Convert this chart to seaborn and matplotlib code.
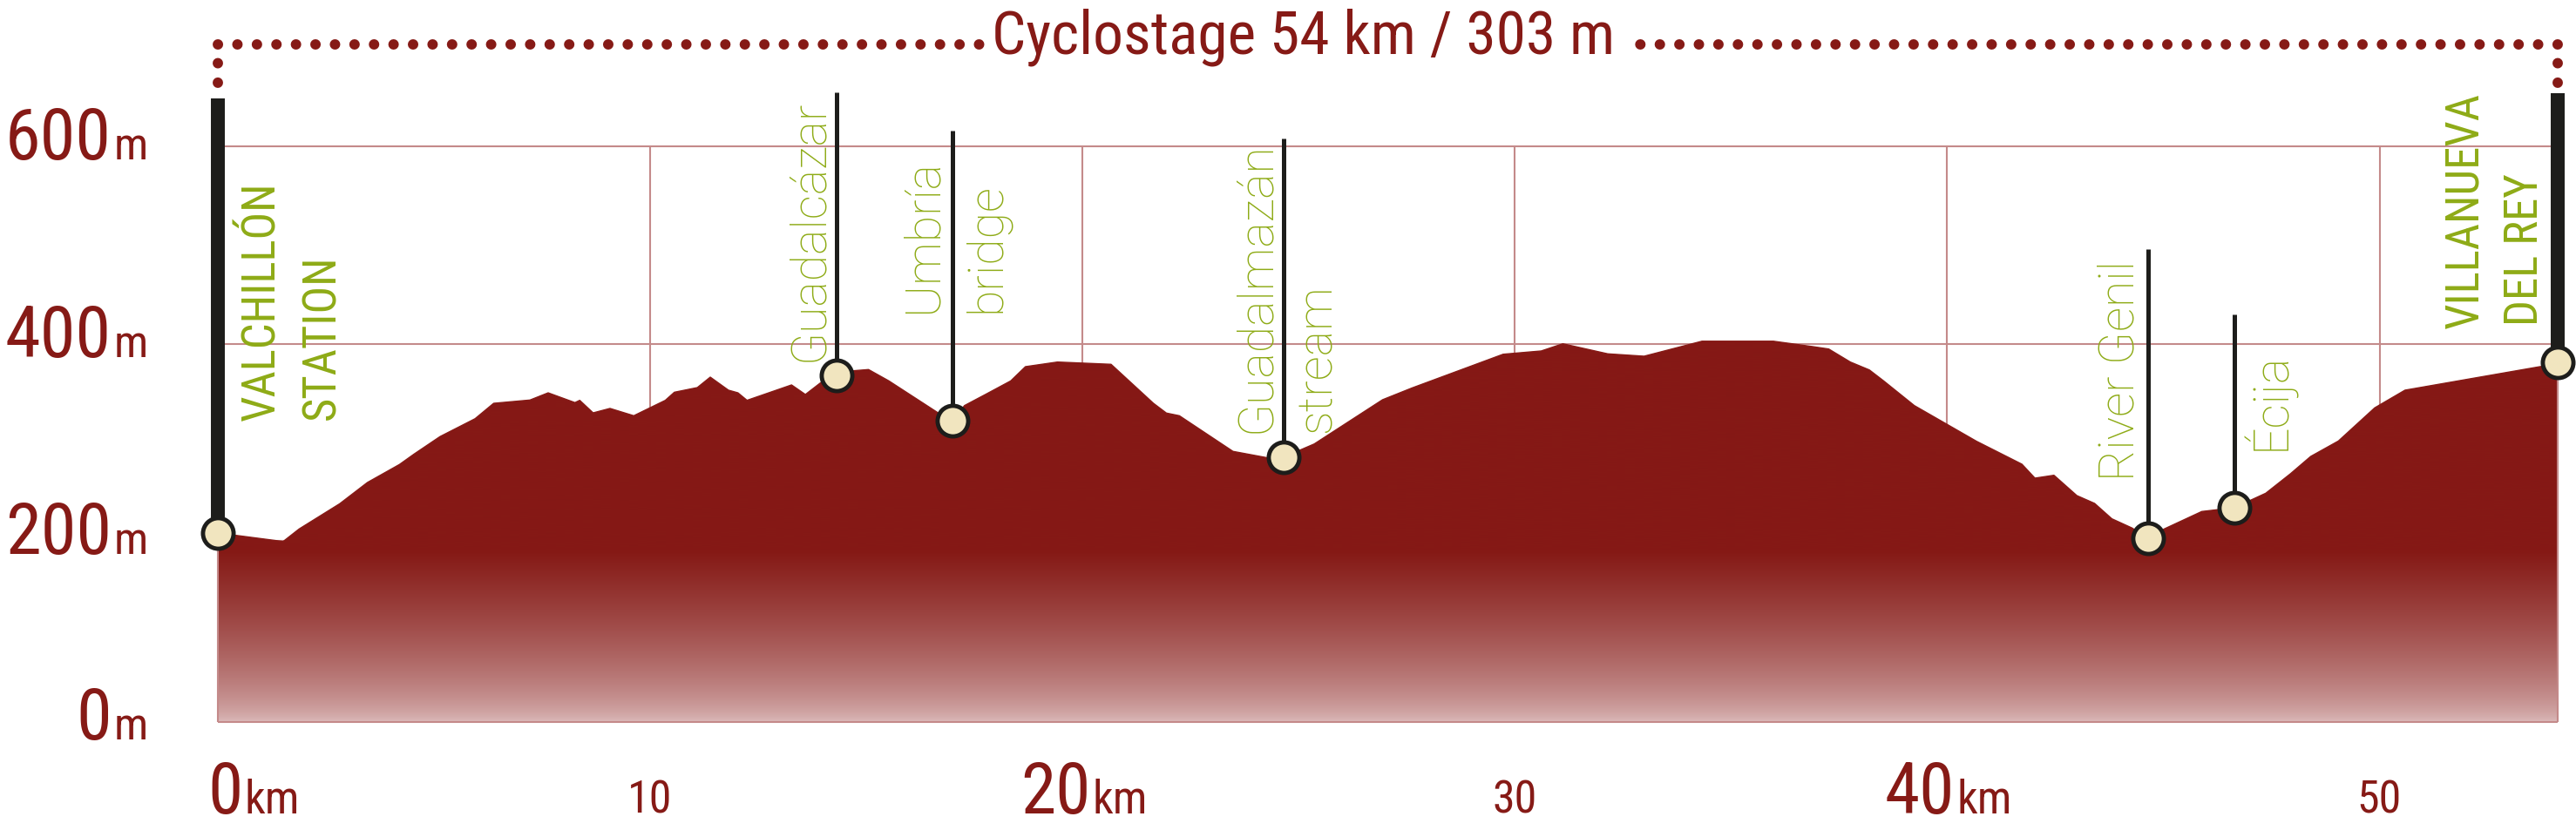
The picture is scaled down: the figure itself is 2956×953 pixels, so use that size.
import numpy as np
import matplotlib
matplotlib.use("Agg")
import matplotlib.pyplot as plt
import matplotlib.transforms as mtransforms
from matplotlib import font_manager as fm
import seaborn as sns

# ---------------- data ----------------
profile_km = [0.00, 1.51, 1.88, 2.82, 3.46, 4.20, 4.54, 5.14, 5.95, 6.38, 7.22, 7.64,
              8.26, 8.37, 8.68, 9.07, 9.62, 10.35, 10.56, 11.09, 11.39, 11.81, 12.03,
              12.24, 13.27, 13.59, 14.04, 14.31, 14.71, 15.05, 15.52, 16.66, 17.00,
              17.27, 17.80, 18.34, 18.68, 19.42, 20.66, 21.64, 21.94, 22.24, 23.48,
              24.29, 24.66, 25.36, 26.94, 27.62, 29.73, 30.61, 31.11, 32.15, 32.99,
              34.33, 35.98, 36.89, 37.26, 37.76, 38.20, 38.53, 39.24, 40.68, 41.73,
              42.03, 42.47, 43.00, 43.41, 43.81, 44.28, 44.65, 45.02, 45.89, 46.64,
              47.37, 47.94, 48.41, 49.05, 49.89, 50.59, 53.75, 54.13]
profile_elev = [208.3, 199.7, 212.4, 238.0, 259.5, 277.7, 288.3, 306.0, 324.1, 339.7,
                343.0, 350.3, 340.4, 342.7, 330.0, 334.5, 327.1, 342.7, 350.9, 355.6,
                366.2, 353.0, 350.3, 342.7, 358.3, 348.6, 363.8, 368.2, 372.7, 373.9,
                362.4, 330.0, 321.8, 337.4, 349.7, 362.4, 376.8, 381.5, 379.2, 339.7,
                329.8, 327.1, 291.0, 284.4, 285.3, 298.5, 343.3, 355.2, 389.4, 392.7,
                400.0, 389.8, 387.4, 402.6, 402.6, 397.1, 394.7, 381.5, 373.5, 362.4,
                337.4, 301.2, 278.0, 263.9, 266.8, 246.2, 238.3, 222.7, 213.3, 202.7,
                212.4, 230.1, 233.9, 248.6, 268.3, 285.9, 301.5, 335.1, 353.0, 377.1,
                380.9]

wp_names = [["VALCHILLÓN", "STATION"], ["Guadalcázar"], ["Umbría", "bridge"],
            ["Guadalmazán", "stream"], ["River Genil"], ["Écija"],
            ["VILLANUEVA", "DEL REY"]]
wp_km = [0.00, 14.31, 17.00, 24.66, 44.65, 46.64, 54.13]
wp_elev = [208.3, 368.2, 321.8, 285.3, 202.7, 233.9, 380.9]
wp_top = [648.5, 654.7, 615.9, 608.0, 495.9, 429.8, 654.2]
wp_major = [True, False, False, False, False, False, True]

x_ticks = [0, 10, 20, 30, 40, 50]
x_tick_labels = ["0", "10", "20", "30", "40", "50"]
x_tick_units = ["km", "", "km", "", "km", ""]
y_ticks = [0, 200, 400, 600]
y_tick_labels = ["0", "200", "400", "600"]
title = "Cyclostage 54 km / 303 m"
base_elev = 17.0

# ---------------- style / layout ----------------
W, H, DPI = 2956, 954, 100
X0_PX, PX_PER_KM = 250.0, 49.61
Y400_PX, PX_PER_M = 395.7, 1.1335

RED = "#861a16"
DARK = np.array([133, 25, 21]) / 255.0
LIGHT = np.array([221, 189, 189]) / 255.0
GREEN = "#8eab16"
STEM = "#1d1d1b"
CREAM = "#f1e5bf"
GRID = "#c48a8a"


def kx(px):
    return (px - X0_PX) / PX_PER_KM


def ey(py):
    return 400.0 - (py - Y400_PX) / PX_PER_M


sns.set_theme(style="white")

entries = fm.fontManager.ttflist
names = {f.name for f in entries}
prefs = [("Liberation Sans Narrow", 1.0), ("Noto Sans Condensed", 1.0),
         ("Arial Narrow", 1.0), ("Roboto Condensed", 1.07),
         ("Open Sans Condensed", 1.05), ("Noto Sans SemiCondensed", 1.1),
         ("Open Sans SemiCondensed", 1.12)]
NARROW, WF = None, 1.0
for n, w in prefs:
    if n in names:
        NARROW, WF = n, w
        break
if NARROW is None:
    for n in sorted(names):
        if (("Condensed" in n or "Narrow" in n) and "CJK" not in n
                and "Mono" not in n and "DejaVu" not in n and "Extra" not in n
                and "Ultra" not in n):
            NARROW, WF = n, 1.05
            break
if NARROW is None:
    NARROW, WF = ("Liberation Sans", 1.22) if "Liberation Sans" in names else ("DejaVu Sans", 1.3)


def fs(base, p):
    return base * WF ** (-p)


LIGHTF = "DejaVu Sans"
for n in ["Roboto", "Open Sans", "Lato", "Liberation Sans"]:
    if n in names:
        LIGHTF = n
        break
light_weight = "normal"
for f in entries:
    if f.name == LIGHTF and f.weight in (300, "light"):
        light_weight = "light"
        break
plt.rcParams["font.family"] = [NARROW, "DejaVu Sans"]

fig = plt.figure(figsize=(W / DPI, H / DPI), dpi=DPI)
ax = fig.add_axes([0, 0, 1, 1])
ax.set_axis_off()

end_km = profile_km[-1]

# grid (behind the profile)
ax.hlines([200, 400, 600], 0, end_km, colors=GRID, lw=1.5, zorder=1)
ax.vlines([t for t in x_ticks if t > 0], base_elev, 600, colors=GRID, lw=1.5, zorder=1)

# gradient-filled profile
fill = ax.fill_between(profile_km, profile_elev, base_elev, facecolor="none", lw=0)
clip = fill.get_paths()[0]
gy = np.linspace(base_elev, 420, 500)
t = np.clip((gy - base_elev) / (190 - base_elev), 0, 1) ** 0.65
cols = LIGHT[None, :] + (DARK - LIGHT)[None, :] * t[:, None]
im = ax.imshow(cols[:, None, :], extent=[0, end_km, base_elev, 420], origin="lower",
               aspect="auto", interpolation="bilinear", zorder=2)
im.set_clip_path(clip, transform=ax.transData)
sns.lineplot(x=profile_km, y=profile_elev, ax=ax, color=RED, lw=1.0, sort=False,
             estimator=None, zorder=2.5, legend=False)

# frame edges (over fill)
ax.hlines(base_elev, 0, end_km, colors=GRID, lw=1.5, zorder=3)
ax.vlines([0, end_km], base_elev, 600, colors=GRID, lw=1.5, zorder=3)

# stems and end bars
lws = [11.5 if m else 3.6 for m in wp_major]
ax.vlines(wp_km, wp_elev, wp_top, colors=STEM, linewidths=lws, zorder=4,
          capstyle="butt")
sns.scatterplot(x=wp_km, y=wp_elev, ax=ax, s=640, color=CREAM, edgecolor=STEM,
                linewidth=3.5, zorder=5, legend=False)

# waypoint labels (baseline x, start y in pixels)
label_layout = [[(315, 483), (384, 482)], [(944, 415)], [(1075, 359), (1147, 359)],
                [(1457, 497), (1527, 497)], [(2448.5, 552)], [(2622, 517)],
                [(2843.5, 377), (2912.5, 374)]]
for lines, pos, major in zip(wp_names, label_layout, wp_major):
    for s, (px, py) in zip(lines, pos):
        if major:
            kw = dict(family=[NARROW, "DejaVu Sans"], fontsize=fs(40, 0.8))
        else:
            kw = dict(family=[LIGHTF, "DejaVu Sans"], fontsize=40, fontweight=light_weight)
        ax.text(kx(px), ey(py), s, rotation=90, rotation_mode="anchor", ha="left",
                va="baseline", color=GREEN, zorder=6, **kw)

# title with dotted frame line
top = ey(52)
dot = dict(color=RED, lw=8.6, linestyle=(0, (0.01, 1.865)), dash_capstyle="round",
           solid_capstyle="round", zorder=6)
ax.plot([0, 0], [ey(96), top], **dot)
ax.plot([0, kx(1128)], [top, top], **dot)
ax.plot([end_km, end_km], [ey(96), top], **dot)
ax.plot([end_km, kx(1866)], [top, top], **dot)
ax.text(kx(1496), ey(62), title, ha="center", va="baseline", fontsize=fs(52, 0.6),
        color=RED, zorder=6)

# y tick labels
for v, lab in zip(y_ticks, y_tick_labels):
    dy = -14 if v > 0 else 0
    tr = mtransforms.offset_copy(ax.transData, fig=fig, x=-122, y=dy, units="dots")
    ax.text(0, v, lab, transform=tr, ha="right", va="baseline", fontsize=fs(63, 0.9),
            color=RED)
    tr2 = mtransforms.offset_copy(ax.transData, fig=fig, x=-119, y=dy, units="dots")
    ax.text(0, v, "m", transform=tr2, ha="left", va="baseline", fontsize=fs(40, 0.9),
            color=RED)

# x tick labels
xl_y = ey(934)
for v, lab, unit in zip(x_ticks, x_tick_labels, x_tick_units):
    if unit:
        off = 29 if v == 0 else 9
        tr = mtransforms.offset_copy(ax.transData, fig=fig, x=off, y=0, units="dots")
        ax.text(v, xl_y, lab, transform=tr, ha="right", va="baseline",
                fontsize=fs(61, 0.6), color=RED)
        tr2 = mtransforms.offset_copy(ax.transData, fig=fig, x=off + 2, y=0, units="dots")
        ax.text(v, xl_y, unit, transform=tr2, ha="left", va="baseline",
                fontsize=fs(40, 0.8), color=RED)
    else:
        ax.text(v, xl_y, lab, ha="center", va="baseline", fontsize=fs(39, 0.6), color=RED)

ax.set_xlim(kx(0), kx(W))
ax.set_ylim(ey(H), ey(0))
fig.savefig("out.png", dpi=DPI)
